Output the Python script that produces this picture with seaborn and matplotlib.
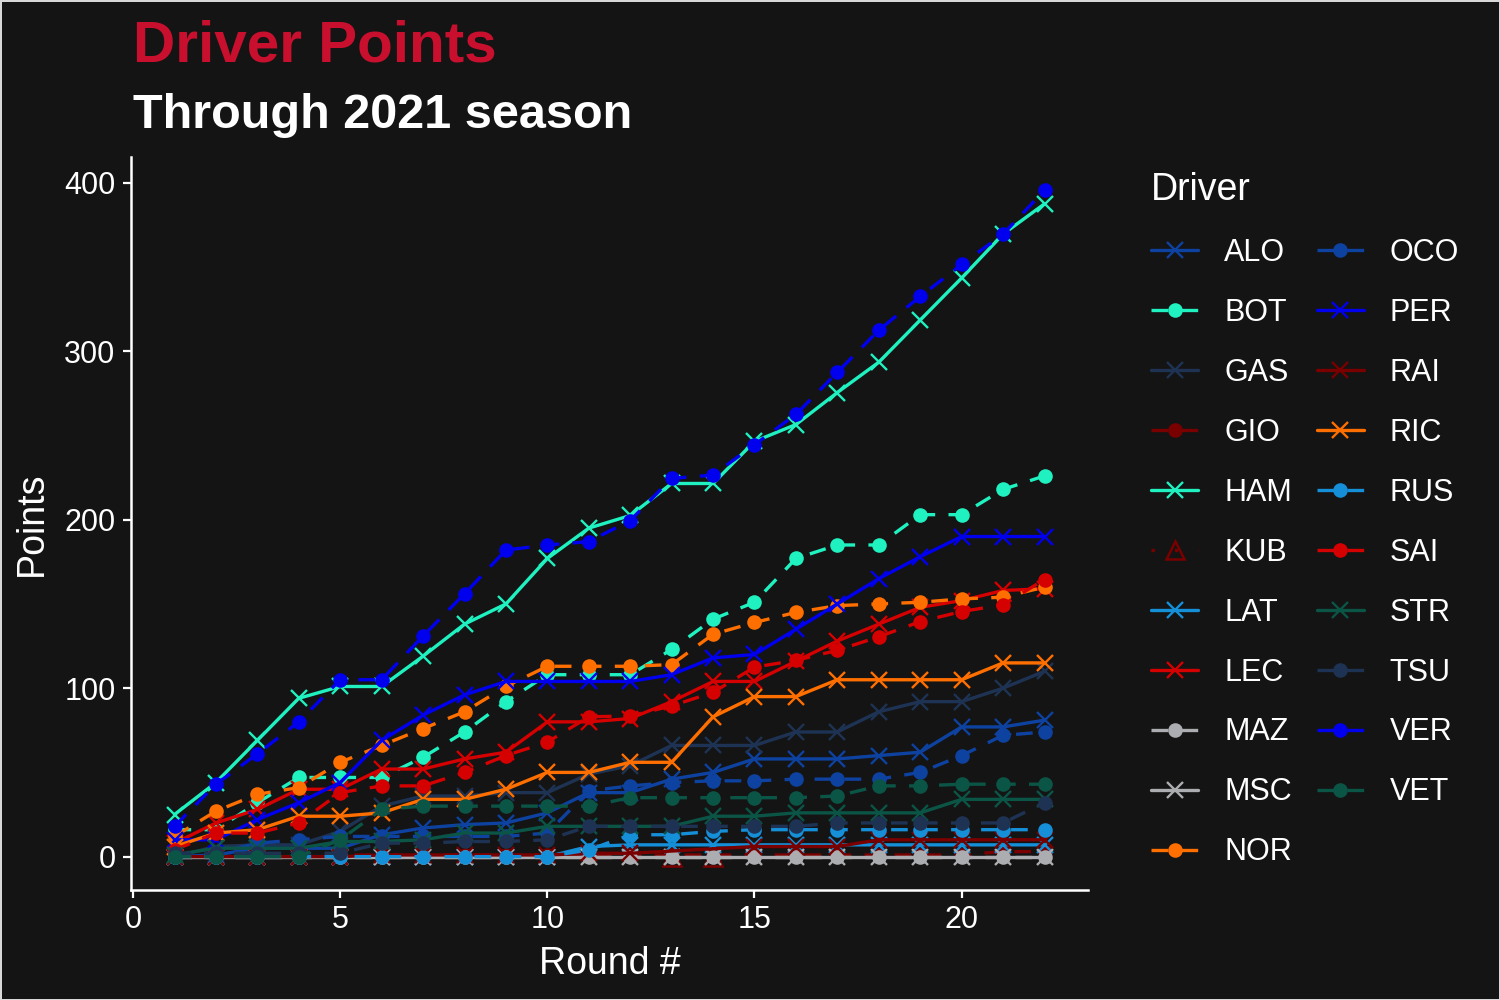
import numpy as np
import pandas as pd
import matplotlib
matplotlib.use('Agg')
import matplotlib.pyplot as plt
import seaborn as sns


###################################################################
# data: cumulative championship points per round, 2021
###################################################################

rounds = list(range(1, 23))

ALO = [0, 1, 5, 5, 5, 13, 17, 19, 20, 26, 38, 38, 46, 50, 58, 58, 58, 60, 62, 77, 77, 81]
BOT = [16, 16, 32, 47, 47, 47, 59, 74, 92, 108, 108, 108, 123, 141, 151, 177, 185, 185, 203, 203, 218, 226]
GAS = [0, 6, 7, 7, 15, 30, 36, 36, 38, 38, 49, 54, 66, 66, 66, 74, 74, 86, 92, 92, 100, 110]
GIO = [0, 0, 0, 0, 1, 1, 1, 1, 1, 1, 1, 1, 1, 1, 1, 1, 1, 1, 1, 1, 3, 3]
HAM = [25, 44, 69, 94, 101, 101, 119, 138, 150, 177, 195, 202.5, 221.5, 221.5, 246.5, 256.5,
       275.5, 293.5, 318.5, 343.5, 369.5, 387.5]
KUB = [0, 0]
LAT = [0, 0, 0, 0, 0, 0, 0, 0, 0, 0, 6, 7, 7, 7, 7, 7, 7, 7, 7, 7, 7, 7]
LEC = [8, 20, 28, 40, 40, 52, 52, 58, 62, 80, 80, 82, 92, 104, 104, 116, 128, 138, 148, 152, 158, 159]
MAZ = [0] * 22
MSC = [0] * 22
NOR = [12, 27, 37, 41, 56, 66, 76, 86, 101, 113, 113, 113, 114, 132, 139, 145, 149, 150, 151, 153, 154, 160]
OCO = [0, 2, 8, 10, 12, 12, 12, 12, 12, 14, 39, 42, 44, 45, 45, 46, 46, 46, 50, 60, 72, 74]
PER = [10, 10, 22, 32, 44, 69, 84, 96, 104, 104, 104, 104, 108, 118, 120, 135, 150, 165, 178, 190, 190, 190]
RAI = [0, 0, 0, 0, 0, 1, 1, 1, 1, 1, 2, 2, 6, 6, 6, 10, 10, 10, 10, 10]
RIC = [6, 14, 16, 24, 24, 26, 34, 34, 40, 50, 50, 56, 56, 83, 95, 95, 105, 105, 105, 105, 115, 115]
RUS = [0, 0, 0, 0, 0, 0, 0, 0, 0, 0, 4, 13, 13, 15, 16, 16, 16, 16, 16, 16, 16, 16]
SAI = [4, 14, 14, 20, 38, 42, 42, 50, 60, 68, 83, 83.5, 89.5, 97.5, 112.5, 116.5, 122.5, 130.5,
       139.5, 145.5, 149.5, 164.5]
STR = [1, 5, 5, 5, 9, 9, 10, 14, 14, 18, 18, 18, 18, 24, 24, 26, 26, 26, 26, 34, 34, 34]
TSU = [2, 2, 2, 2, 2, 8, 8, 9, 9, 10, 18, 18, 18, 18, 18, 18, 20, 20, 20, 20, 20, 32]
VER = [18, 43, 61, 80, 105, 105, 131, 156, 182, 185, 187, 199.5, 224.5, 226.5, 244.5, 262.5,
       287.5, 312.5, 332.5, 351.5, 369.5, 395.5]
VET = [0, 0, 0, 0, 10, 28, 30, 30, 30, 30, 30, 35, 35, 35, 35, 35, 36, 42, 42, 43, 43, 43]

# rounds each driver took part in (KUB replaced RAI at rounds 13-14)
KUB_rounds = [13, 14]
RAI_rounds = [r for r in rounds if r not in KUB_rounds]

drivers = ['ALO', 'BOT', 'GAS', 'GIO', 'HAM', 'KUB', 'LAT', 'LEC', 'MAZ', 'MSC', 'NOR',
           'OCO', 'PER', 'RAI', 'RIC', 'RUS', 'SAI', 'STR', 'TSU', 'VER', 'VET']

points = {'ALO': ALO, 'BOT': BOT, 'GAS': GAS, 'GIO': GIO, 'HAM': HAM, 'KUB': KUB, 'LAT': LAT,
          'LEC': LEC, 'MAZ': MAZ, 'MSC': MSC, 'NOR': NOR, 'OCO': OCO, 'PER': PER, 'RAI': RAI,
          'RIC': RIC, 'RUS': RUS, 'SAI': SAI, 'STR': STR, 'TSU': TSU, 'VER': VER, 'VET': VET}
driver_rounds = {d: rounds for d in drivers}
driver_rounds['KUB'] = KUB_rounds
driver_rounds['RAI'] = RAI_rounds

###################################################################
# styles (team colours, first driver solid/x, second dashed/o)
###################################################################

alpine = '#0e42a0'
mercedes = '#1ff2c0'
alphatauri = '#1e3354'
alfa = '#7a0000'
williams = '#158fd8'
ferrari = '#d50000'
haas = '#abadb0'
mclaren = '#ff6f00'
redbull = '#0000ee'
aston = '#0b5546'

palette = {'ALO': alpine, 'OCO': alpine, 'BOT': mercedes, 'HAM': mercedes,
           'GAS': alphatauri, 'TSU': alphatauri, 'GIO': alfa, 'RAI': alfa, 'KUB': alfa,
           'LAT': williams, 'RUS': williams, 'LEC': ferrari, 'SAI': ferrari,
           'MAZ': haas, 'MSC': haas, 'NOR': mclaren, 'RIC': mclaren,
           'PER': redbull, 'VER': redbull, 'STR': aston, 'VET': aston}

first = ['ALO', 'HAM', 'GAS', 'RAI', 'LAT', 'LEC', 'MSC', 'RIC', 'PER', 'STR']
marker_of = {d: ('x' if d in first else 'o') for d in drivers}
marker_of['KUB'] = '^'
dash_of = {d: ('' if d in first else (5, 4)) for d in drivers}
dash_of['KUB'] = (1, 6)

df = pd.concat([pd.DataFrame({'round': driver_rounds[d], 'points': points[d], 'driver': d})
                for d in drivers], ignore_index=True)

###################################################################
# plot
###################################################################

bg = '#141414'
sns.set_theme(style='ticks')
plt.rcParams['font.family'] = ['Liberation Sans', 'DejaVu Sans']
plt.rcParams.update({'figure.facecolor': bg, 'axes.facecolor': bg, 'savefig.facecolor': bg,
                     'text.color': 'white', 'axes.labelcolor': 'white',
                     'xtick.color': 'white', 'ytick.color': 'white',
                     'axes.edgecolor': 'white'})

fig = plt.figure(figsize=(15, 10), dpi=100)
ax = fig.add_axes([131 / 1500, 0.110, 957 / 1500, 0.733])

sns.lineplot(data=df, x='round', y='points', hue='driver', style='driver',
             hue_order=drivers, style_order=drivers, palette=palette,
             dashes=dash_of, markers=False, errorbar=None, linewidth=2.4,
             legend=False, ax=ax)

# seaborn will not mix filled / line markers, so set them per line
for d, line in zip(drivers, ax.lines):
    c = palette[d]
    m = marker_of[d]
    line.set_marker(m)
    line.set_markeredgecolor(c)
    if m == 'o':
        line.set_markersize(10.5)
        line.set_markerfacecolor(c)
        line.set_markeredgewidth(0)
    elif m == 'x':
        line.set_markersize(11.5)
        line.set_markeredgewidth(1.7)
    else:
        line.set_markersize(13)
        line.set_markerfacecolor('none')
        line.set_markeredgewidth(1.8)

ax.set_xlim(-0.05, 23.05)
ax.set_ylim(-19.8, 415.3)
ax.set_xticks([0, 5, 10, 15, 20])
ax.set_yticks([0, 100, 200, 300, 400])
sns.despine(ax=ax)
for s in ['left', 'bottom']:
    ax.spines[s].set_linewidth(1.8)
    ax.spines[s].set_color('white')
ax.tick_params(labelsize=22, length=5.5, width=1.6, colors='white')
ax.tick_params(axis='x', pad=5)
ax.tick_params(axis='y', pad=5.7)
ax.set_xlabel('Round #', fontsize=27, labelpad=8)
ax.set_ylabel('Points', fontsize=27, labelpad=10)

ax.legend(handles=ax.lines[:len(drivers)], labels=drivers, ncol=2, title='Driver',
          loc='upper left', bbox_to_anchor=(1151 / 1500, 0.828), bbox_transform=fig.transFigure,
          frameon=False, fontsize=22, title_fontsize=27, handlelength=1.55,
          handletextpad=0.85, columnspacing=0.8, labelspacing=0.98, borderpad=0,
          borderaxespad=0, alignment='left')

fig.text(133 / 1500, 0.938, 'Driver Points', color='#c8102e', fontsize=42,
         fontweight='bold', va='baseline')
fig.text(133 / 1500, 0.872, 'Through 2021 season', color='white', fontsize=35,
         fontweight='bold', va='baseline')

fig.patch.set_edgecolor('#d8d8d8')
fig.patch.set_linewidth(2)

plt.savefig('out.png', dpi=100, facecolor=fig.get_facecolor(), edgecolor=fig.get_edgecolor())
